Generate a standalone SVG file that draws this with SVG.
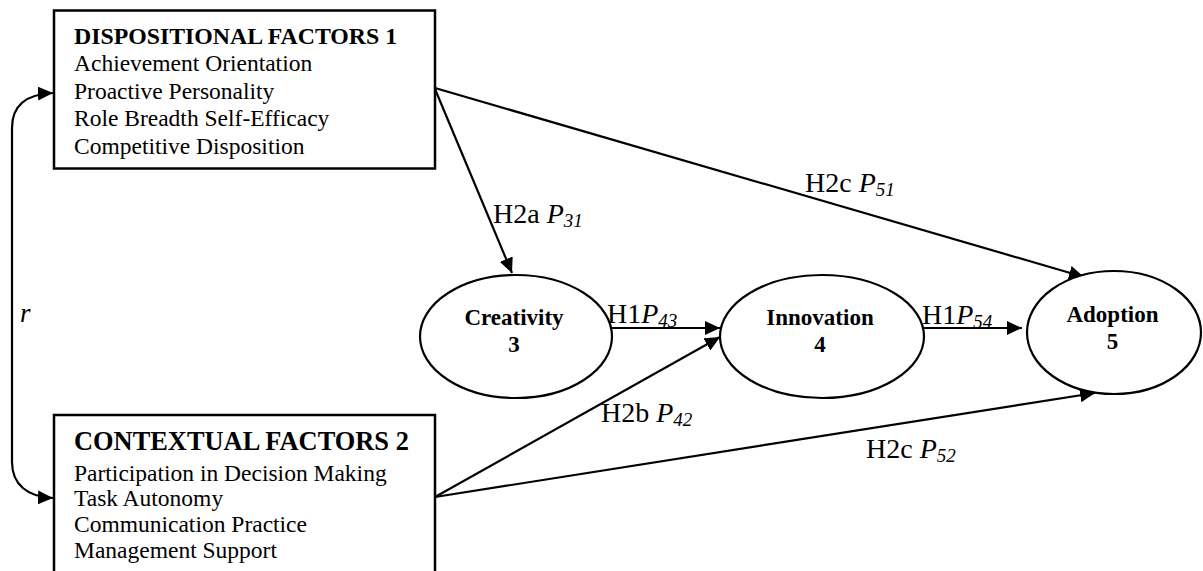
<svg xmlns="http://www.w3.org/2000/svg" width="1203" height="571" viewBox="0 0 1203 571">
<style>
  .box { fill: #fff; stroke: #000; stroke-width: 2.5; }
  .ell { fill: #fff; stroke: #000; stroke-width: 2.2; }
  .t { font-family: "Liberation Serif", "Times New Roman", serif; fill: #000; }
  .title1 { font-size: 23.8px; font-weight: bold; }
  .title2 { font-size: 26.4px; font-weight: bold; }
  .item { font-size: 23.5px; }
  .node { font-size: 23px; font-weight: bold; text-anchor: middle; }
  .lbl { font-size: 28px; }
  .it { font-style: italic; }
  .sub { font-size: 19px; font-style: italic; }
  .conn { fill: none; stroke: #000; stroke-width: 2.2; }
</style>
<defs>
  <marker id="ah" markerUnits="userSpaceOnUse" markerWidth="16" markerHeight="14" refX="15" refY="7" orient="auto">
    <path d="M0,0 L15,7 L0,14 z" fill="#000"/>
  </marker>
  <marker id="ahs" markerUnits="userSpaceOnUse" markerWidth="16" markerHeight="14" refX="1" refY="7" orient="auto">
    <path d="M16,0 L1,7 L16,14 z" fill="#000"/>
  </marker>
</defs>
<rect width="1203" height="571" fill="#fff"/>

<g id="connectors">
  <path class="conn" d="M53,93 C28,94 12,104 12,128 L12,462 C12,485 28,497 53,498" marker-start="url(#ahs)" marker-end="url(#ah)"/>
  <line class="conn" x1="435" y1="89" x2="512" y2="273" marker-end="url(#ah)"/>
  <line class="conn" x1="435" y1="88" x2="1084" y2="277" marker-end="url(#ah)"/>
  <line class="conn" x1="612" y1="328" x2="720" y2="328" marker-end="url(#ah)"/>
  <line class="conn" x1="435" y1="497" x2="720" y2="337" marker-end="url(#ah)"/>
  <line class="conn" x1="435" y1="497" x2="1095" y2="393" marker-end="url(#ah)"/>
  <line class="conn" x1="919" y1="328" x2="1022" y2="328" marker-end="url(#ah)"/>
</g>

<g id="labels">
  <text class="t it" x="20" y="322" style="font-size:27px">r</text>
  <text class="t lbl" x="493" y="223">H2a <tspan class="it">P</tspan><tspan class="sub" dy="4">31</tspan></text>
  <text class="t lbl" x="805" y="192">H2c <tspan class="it">P</tspan><tspan class="sub" dy="4">51</tspan></text>
  <text class="t lbl" x="607" y="323">H1<tspan class="it">P</tspan><tspan class="sub" dy="4">43</tspan></text>
  <text class="t lbl" x="922" y="324">H1<tspan class="it">P</tspan><tspan class="sub" dy="4">54</tspan></text>
  <text class="t lbl" x="601" y="422">H2b <tspan class="it">P</tspan><tspan class="sub" dy="4">42</tspan></text>
  <text class="t lbl" x="866" y="458">H2c <tspan class="it">P</tspan><tspan class="sub" dy="4">52</tspan></text>
</g>

<g id="dispositional">
  <rect class="box" x="54" y="10.5" width="381" height="158"/>
  <text class="t title1" x="74" y="44">DISPOSITIONAL FACTORS 1</text>
  <text class="t item" x="74" y="71">Achievement Orientation</text>
  <text class="t item" x="74" y="98.5">Proactive Personality</text>
  <text class="t item" x="74" y="126">Role Breadth Self-Efficacy</text>
  <text class="t item" x="74" y="153.5">Competitive Disposition</text>
</g>

<g id="contextual">
  <rect class="box" x="54" y="415" width="381" height="170"/>
  <text class="t title2" x="74" y="450">CONTEXTUAL FACTORS 2</text>
  <text class="t item" x="74" y="480.5">Participation in Decision Making</text>
  <text class="t item" x="74" y="506">Task Autonomy</text>
  <text class="t item" x="74" y="531.5">Communication Practice</text>
  <text class="t item" x="74" y="557.5">Management Support</text>
</g>

<g id="creativity">
  <ellipse class="ell" cx="516" cy="336.5" rx="96" ry="61.5"/>
  <text class="t node" x="514" y="325">Creativity</text>
  <text class="t node" x="514" y="352">3</text>
</g>

<g id="innovation">
  <ellipse class="ell" cx="822" cy="336.5" rx="102" ry="61.5"/>
  <text class="t node" x="820" y="325">Innovation</text>
  <text class="t node" x="820" y="351.5">4</text>
</g>

<g id="adoption">
  <ellipse class="ell" cx="1114" cy="332.5" rx="87" ry="61.5"/>
  <text class="t node" x="1112.5" y="322">Adoption</text>
  <text class="t node" x="1112.5" y="348.5">5</text>
</g>
</svg>
